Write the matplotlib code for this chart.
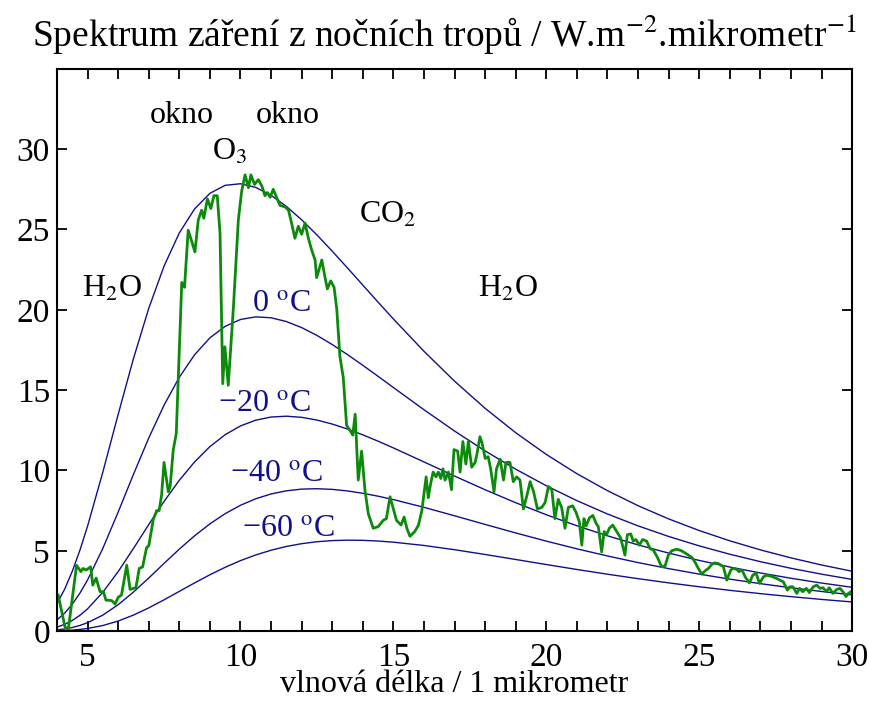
import numpy as np
import matplotlib
matplotlib.use("Agg")
import matplotlib.pyplot as plt
from matplotlib.ticker import MultipleLocator

# black body curves (W.m-2.um-1) at 20, 0, -20, -40, -60 C
lam = [4, 4.25, 4.5, 4.75, 5, 5.5, 6, 6.5, 7, 7.5, 8, 8.5, 9, 9.5, 10, 10.5, 11, 11.5, 12, 12.5,
       13, 13.5, 14, 14.5, 15, 16, 17, 18, 19, 20, 21, 22, 23, 24, 25, 26, 27, 28, 29, 30]
bb_p20 = [1.714, 2.605, 3.718, 5.037, 6.534, 9.903, 13.486, 16.961, 20.087, 22.716, 24.782, 26.281,
          27.249, 27.747, 27.845, 27.616, 27.126, 26.436, 25.599, 24.657, 23.648, 22.599, 21.535,
          20.473, 19.426, 17.416, 15.556, 13.865, 12.347, 10.995, 9.797, 8.739, 7.805, 6.983,
          6.258, 5.619, 5.055, 4.557, 4.115, 3.724]
bb_0 = [0.698, 1.118, 1.673, 2.364, 3.184, 5.152, 7.408, 9.755, 12.017, 14.061, 15.802, 17.201,
        18.252, 18.973, 19.396, 19.559, 19.503, 19.268, 18.891, 18.404, 17.835, 17.209, 16.544,
        15.857, 15.160, 13.778, 12.452, 11.213, 10.077, 9.047, 8.119, 7.289, 6.549, 5.890,
        5.304, 4.784, 4.321, 3.909, 3.543, 3.216]
bb_m20 = [0.247, 0.420, 0.663, 0.984, 1.385, 2.418, 3.702, 5.142, 6.630, 8.070, 9.387, 10.534,
          11.483, 12.226, 12.771, 13.130, 13.324, 13.376, 13.306, 13.136, 12.887, 12.575, 12.215,
          11.821, 11.402, 10.529, 9.649, 8.796, 7.990, 7.242, 6.555, 5.930, 5.365, 4.856,
          4.398, 3.987, 3.618, 3.288, 2.991, 2.726]
bb_m40 = [0.073, 0.133, 0.225, 0.353, 0.522, 0.996, 1.643, 2.428, 3.303, 4.212, 5.102, 5.933,
          6.675, 7.311, 7.832, 8.239, 8.536, 8.732, 8.837, 8.863, 8.821, 8.723, 8.579,
          8.397, 8.186, 7.704, 7.178, 6.639, 6.109, 5.600, 5.121, 4.676, 4.265, 3.889,
          3.546, 3.235, 2.953, 2.697, 2.466, 2.257]
bb_m60 = [0.017, 0.034, 0.062, 0.104, 0.164, 0.348, 0.626, 0.996, 1.444, 1.946, 2.473, 3.001,
          3.506, 3.972, 4.386, 4.741, 5.035, 5.268, 5.442, 5.562, 5.633, 5.660, 5.649,
          5.606, 5.535, 5.330, 5.066, 4.769, 4.457, 4.143, 3.835, 3.541, 3.263, 3.002,
          2.760, 2.537, 2.332, 2.144, 1.971, 1.814]

sp_lam = [4.04, 4.26, 4.37, 4.64, 4.78, 4.85, 4.95, 5.1, 5.17, 5.28, 5.41, 5.52, 5.6, 5.79, 5.9,
          6.0, 6.11, 6.28, 6.39, 6.58, 6.69, 6.8, 6.93, 7.0, 7.15, 7.26, 7.34, 7.42, 7.5, 7.64,
          7.7, 7.8, 7.9, 8.08, 8.17, 8.29, 8.4, 8.51, 8.62, 8.73, 8.8, 8.92, 9.03, 9.13, 9.24,
          9.33, 9.42, 9.49, 9.6, 9.77, 9.93, 10.04, 10.15, 10.26, 10.34, 10.46, 10.58, 10.7,
          10.8, 10.88, 10.97, 11.07, 11.18, 11.29, 11.46, 11.57, 11.67, 11.78, 11.89, 12.0,
          12.11, 12.22, 12.33, 12.44, 12.49, 12.66, 12.76, 12.84, 12.95, 13.06, 13.15, 13.25,
          13.36, 13.47, 13.58, 13.67, 13.75, 13.85, 13.96, 14.07, 14.18, 14.34, 14.5, 14.67,
          14.77, 14.89, 15.0, 15.1, 15.25, 15.35, 15.44, 15.54, 15.7, 15.82, 15.93, 16.07,
          16.14, 16.22, 16.3, 16.39, 16.47, 16.55, 16.62, 16.69, 16.8, 16.9, 16.98, 17.1,
          17.18, 17.27, 17.37, 17.45, 17.56, 17.67, 17.72, 17.83, 17.9, 18.0, 18.1, 18.18,
          18.29, 18.37, 18.49, 18.6, 18.68, 18.81, 18.92, 19.03, 19.14, 19.25, 19.36, 19.47,
          19.58, 19.71, 19.85, 19.96, 20.07, 20.18, 20.28, 20.39, 20.5, 20.61, 20.72, 20.86,
          20.97, 21.08, 21.16, 21.23, 21.3, 21.41, 21.52, 21.63, 21.7, 21.81, 21.89, 21.97,
          22.06, 22.17, 22.3, 22.43, 22.57, 22.65, 22.76, 22.84, 22.93, 23.04, 23.15, 23.28,
          23.39, 23.5, 23.63, 23.77, 23.88, 23.99, 24.1, 24.26, 24.42, 24.59, 24.75, 24.86,
          24.97, 25.08, 25.19, 25.3, 25.41, 25.5, 25.63, 25.79, 25.9, 26.03, 26.1, 26.22,
          26.3, 26.4, 26.5, 26.64, 26.75, 26.86, 26.97, 27.1, 27.21, 27.37, 27.53, 27.64,
          27.75, 27.88, 27.97, 28.06, 28.19, 28.28, 28.38, 28.5, 28.6, 28.73, 28.84, 28.95,
          29.05, 29.15, 29.25, 29.37, 29.5, 29.6, 29.72, 29.8, 29.88, 29.96]
sp_val = [2.24, 0.27, 0.1, 4.1, 3.7, 3.9, 3.8, 4.0, 2.86, 3.3, 2.45, 2.45, 1.93, 1.9, 1.68,
          2.1, 2.25, 4.1, 2.6, 2.7, 3.9, 4.0, 5.2, 5.3, 6.96, 7.5, 7.5, 8.46, 10.5, 8.67,
          9.0, 11.26, 12.3, 21.7, 21.4, 24.95, 24.3, 23.6, 25.6, 26.2, 25.7, 26.9, 26.3, 27.1, 27.1,
          24.8, 15.4, 17.7, 15.3, 20.2, 25.6, 27.4, 28.4, 27.6, 28.4, 27.8, 28.1, 27.7,
          27.1, 27.3, 27.0, 27.5, 27.0, 26.5, 26.4, 26.2, 25.4, 24.45, 25.2, 24.7,
          25.4, 24.45, 23.7, 23.1, 22.0, 23.1, 22.05, 21.3, 21.8, 21.4, 20.0, 17.1,
          15.8, 12.8, 12.5, 12.2, 13.5, 9.4, 11.2, 8.77, 7.3, 6.4, 6.5, 6.9,
          7.0, 8.36, 7.6, 6.9, 6.6, 7.1, 6.4, 5.9, 6.2, 6.6, 7.5, 9.6,
          8.3, 9.2, 9.9, 9.6, 9.9, 9.5, 10.1, 9.4, 9.9, 8.8, 11.3, 11.2,
          9.9, 11.8, 10.4, 11.8, 10.2, 10.5, 10.9, 12.1, 11.7, 10.75, 10.85, 10.1,
          8.67, 10.1, 10.7, 9.4, 10.5, 10.5, 9.3, 9.6, 9.4, 7.6, 8.4, 9.3,
          8.7, 7.6, 7.7, 8.0, 9.0, 8.8, 7.0, 8.2, 7.7, 6.4, 7.7, 7.8,
          7.4, 6.8, 5.35, 7.0, 6.55, 7.05, 7.2, 6.7, 6.5, 4.93, 6.2, 6.0,
          6.4, 6.6, 6.2, 5.8, 4.73, 6.0, 6.05, 5.6, 5.7, 5.35, 5.7, 5.6,
          5.14, 5.04, 4.6, 4.0, 4.04, 4.73, 5.0, 5.1, 5.0, 4.8, 4.6, 4.3,
          3.9, 3.55, 3.75, 3.9, 4.15, 4.25, 4.2, 4.0, 3.17, 3.8, 3.9, 3.85,
          3.7, 3.8, 3.38, 3.0, 3.48, 3.6, 2.97, 3.38, 3.48, 3.4, 3.28, 3.17,
          3.07, 2.55, 2.76, 2.76, 2.35, 2.66, 2.45, 2.66, 2.4, 2.76, 2.86, 2.66,
          2.7, 2.45, 2.7, 2.35, 2.6, 2.66, 2.4, 2.15, 2.35, 2.45]

plt.rcParams['font.family'] = ['Liberation Serif', 'DejaVu Serif']
plt.rcParams['mathtext.fontset'] = 'stix'

fig = plt.figure(figsize=(8.7, 7.02), dpi=100)
ax = fig.add_axes([0.0655, 0.101, 0.914, 0.801])

blue = '#10108a'
for bb in [bb_p20, bb_0, bb_m20, bb_m40, bb_m60]:
    ax.plot(lam, bb, color=blue, lw=1.0)
ax.plot(sp_lam, sp_val, color='#0b8a0b', lw=2.0)

ax.set_xlim(4, 30)
ax.set_ylim(0, 35)
ax.xaxis.set_major_locator(MultipleLocator(5))
ax.xaxis.set_minor_locator(MultipleLocator(1))
ax.set_yticks([0, 5, 10, 15, 20, 25, 30])
ax.tick_params(which='both', direction='in', top=True, right=True, length=7, width=1.3,
               labelsize=24)
ax.tick_params(axis='x', pad=8)
ax.tick_params(axis='y', pad=5)
for s in ax.spines.values():
    s.set_linewidth(1.5)

fig.text(0.511, 1 - 47 / 702, 'Spektrum záření z nočních tropů / W.m$^{-2}$.mikrometr$^{-1}$',
         fontsize=27, ha='center', va='baseline')
ax.set_xlabel('vlnová délka / 1 mikrometr', fontsize=23, labelpad=-2)

fs = 23
ax.text(5.8, 21.3, 'H$_2$O', fontsize=fs, ha='center', va='center')
ax.text(18.75, 21.3, 'H$_2$O', fontsize=fs, ha='center', va='center')
ax.text(8.09, 32.1, 'okno', fontsize=fs, ha='center', va='center')
ax.text(11.55, 32.1, 'okno', fontsize=fs, ha='center', va='center')
ax.text(9.66, 29.8, 'O$_3$', fontsize=fs, ha='center', va='center')
ax.text(14.82, 25.9, 'CO$_2$', fontsize=fs, ha='center', va='center')

ax.text(11.33, 19.87, '0 $^{\\rm o}$C', fontsize=fs, color=blue, ha='center', va='baseline')
ax.text(10.77, 13.65, '−20 $^{\\rm o}$C', fontsize=fs, color=blue, ha='center', va='baseline')
ax.text(11.18, 9.29, '−40 $^{\\rm o}$C', fontsize=fs, color=blue, ha='center', va='baseline')
ax.text(11.55, 5.83, '−60 $^{\\rm o}$C', fontsize=fs, color=blue, ha='center', va='baseline')

fig.savefig('out.png')
